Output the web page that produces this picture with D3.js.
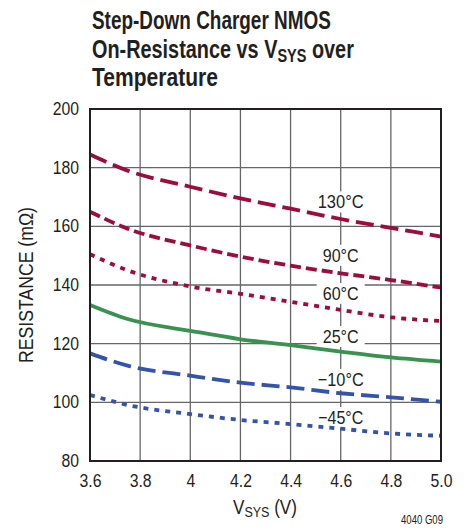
<!DOCTYPE html>
<html>
<head>
<meta charset="utf-8">
<script src="https://cdn.jsdelivr.net/npm/d3@7"></script>
<style>
  html, body { margin: 0; padding: 0; background: #fff; }
  svg { display: block; }
  text { font-family: "Liberation Sans", Arial, sans-serif; fill: #231f20; }
</style>
</head>
<body>
<svg id="chart" width="466" height="529"></svg>
<script>
// ---- data ----
const vsys = [3.6, 3.75, 4.0, 4.2, 4.4, 4.6, 4.8, 5.0];
const r130 = [184.5, 179.0, 173.5, 169.5, 166.0, 162.5, 159.5, 156.5];
const r90  = [165.0, 159.2, 153.5, 149.7, 146.6, 144.0, 141.7, 139.1];
const r60  = [150.5, 145.0, 139.5, 137.0, 134.3, 131.5, 129.0, 127.7];
const r25  = [133.2, 128.4, 124.4, 121.5, 119.5, 117.3, 115.3, 113.9];
const rm10 = [116.7, 112.5, 109.1, 106.7, 105.1, 103.1, 101.7, 100.2];
const rm45 = [102.5, 99.1, 96.0, 94.0, 92.6, 91.0, 89.4, 88.6];
const xTicks = [3.6, 3.8, 4.0, 4.2, 4.4, 4.6, 4.8, 5.0];
const xTickLabels = ["3.6", "3.8", "4", "4.2", "4.4", "4.6", "4.8", "5.0"];
const yTicks = [80, 100, 120, 140, 160, 180, 200];
const seriesNames = ["130°C", "90°C", "60°C", "25°C", "\u221210°C", "\u221245°C"];
const seriesValues = [r130, r90, r60, r25, rm10, rm45];
const labelAt = [166.1, 147.9, 134.9, 120.2, 105.6, 92.6]; // label baseline (data units)
const labelX = 4.6;

// ---- styles ----
const colors = ["#9b0d3b", "#9b0d3b", "#9b0d3b", "#3b9150", "#3553a8", "#3553a8"];
const dashes = ["18,7", "11,5", "5,6", null, "18,7", "5,6"];
const labelWidths = [46, 36, 36, 36, 46, 45];

const svg = d3.select("#chart");
const m = { left: 90, right: 441, top: 109, bottom: 461 };
const x = d3.scaleLinear().domain([3.6, 5.0]).range([m.left, m.right]);
const y = d3.scaleLinear().domain([80, 200]).range([m.bottom, m.top]);

// squeeze a text element horizontally about an anchor x to a given width
function squeeze(sel, ax, width) {
  const w = sel.node().getBBox().width;
  const s = width / w;
  sel.attr("transform", `translate(${ax},0) scale(${s},1) translate(${-ax},0)`);
}

// title
const tl = svg.append("g").attr("font-weight", "bold").attr("font-size", 26);
const l1 = tl.append("text").attr("x", 92).attr("y", 29).text("Step-Down Charger NMOS");
squeeze(l1, 92, 239);
const l2 = tl.append("text").attr("x", 92).attr("y", 58);
l2.append("tspan").text("On-Resistance vs V");
l2.append("tspan").attr("font-size", 19).attr("dy", 4).text("SYS");
l2.append("tspan").attr("dy", -4).text(" over");
squeeze(l2, 92, 262);
const l3 = tl.append("text").attr("x", 92).attr("y", 86).text("Temperature");
squeeze(l3, 92, 126);

// grid
const grid = svg.append("g");
grid.selectAll(".vx").data(xTicks.slice(1, -1)).join("line")
  .attr("x1", d => x(d)).attr("x2", d => x(d)).attr("y1", m.top).attr("y2", m.bottom)
  .attr("stroke", "#666").attr("stroke-width", 1.3);
grid.selectAll(".hy").data(yTicks.slice(1, -1)).join("line")
  .attr("y1", d => y(d)).attr("y2", d => y(d)).attr("x1", m.left).attr("x2", m.right)
  .attr("stroke", "#666").attr("stroke-width", 1.3);

// axes (tick labels)
const xAxis = d3.axisBottom(x).tickValues(xTicks).tickSize(0).tickPadding(14)
  .tickFormat((d, i) => xTickLabels[i]);
const gx = svg.append("g").attr("transform", `translate(0,${m.bottom})`).call(xAxis);
gx.select(".domain").remove();
gx.selectAll("text").attr("font-size", 17.5).attr("fill", "#231f20").attr("font-family", null)
  .each(function () { const w = this.getComputedTextLength(); d3.select(this).attr("textLength", w * 0.9).attr("lengthAdjust", "spacingAndGlyphs"); });

const yAxis = d3.axisLeft(y).tickValues(yTicks).tickSize(0).tickPadding(11);
const gy = svg.append("g").attr("transform", `translate(${m.left},0)`).call(yAxis);
gy.select(".domain").remove();
gy.selectAll("text").attr("font-size", 17.5).attr("fill", "#231f20").attr("font-family", null)
  .each(function () { const w = this.getComputedTextLength(); d3.select(this).attr("textLength", w * 0.9).attr("lengthAdjust", "spacingAndGlyphs"); });

// series labels with white background
const lab = svg.append("g");
seriesNames.forEach((name, i) => {
  const g = lab.append("g");
  const cx = x(labelX), by = y(labelAt[i]);
  const w = labelWidths[i];
  g.append("text").attr("x", cx).attr("y", by)
    .attr("text-anchor", "middle").attr("font-size", 18.5)
    .attr("textLength", w).attr("lengthAdjust", "spacingAndGlyphs").text(name);
  const pad = w > 40 ? 7 : 6;
  g.insert("rect", "text").attr("x", cx - w / 2 - pad).attr("y", by - 17)
    .attr("width", w + 2 * pad).attr("height", 21).attr("fill", "#fff");
});

// curves
const line = d3.line().x(d => x(d[0])).y(d => y(d[1])).curve(d3.curveMonotoneX);
seriesValues.forEach((vals, i) => {
  svg.append("path").datum(vsys.map((v, j) => [v, vals[j]]))
    .attr("d", line).attr("fill", "none")
    .attr("stroke", colors[i]).attr("stroke-width", 3.8)
    .attr("stroke-dasharray", dashes[i]);
});

// frame
svg.append("rect").attr("x", m.left).attr("y", m.top)
  .attr("width", m.right - m.left).attr("height", m.bottom - m.top)
  .attr("fill", "none").attr("stroke", "#231f20").attr("stroke-width", 2);

// axis titles
const xt = svg.append("text").attr("x", 233).attr("y", 514).attr("font-size", 20.5);
xt.append("tspan").text("V");
xt.append("tspan").attr("font-size", 15).attr("dy", 3).text("SYS");
xt.append("tspan").attr("dy", -3).text(" (V)");
squeeze(xt, 233, 64);

const yt = svg.append("text").attr("transform", `translate(33,${(m.top + m.bottom) / 2}) rotate(-90)`)
  .attr("text-anchor", "middle").attr("font-size", 20.5).text("RESISTANCE (m\u03a9)");
yt.attr("textLength", 156).attr("lengthAdjust", "spacingAndGlyphs");

svg.append("text").attr("x", 443).attr("y", 524).attr("text-anchor", "end")
  .attr("font-size", 12.5).attr("textLength", 42).attr("lengthAdjust", "spacingAndGlyphs").text("4040 G09");
</script>
</body>
</html>
